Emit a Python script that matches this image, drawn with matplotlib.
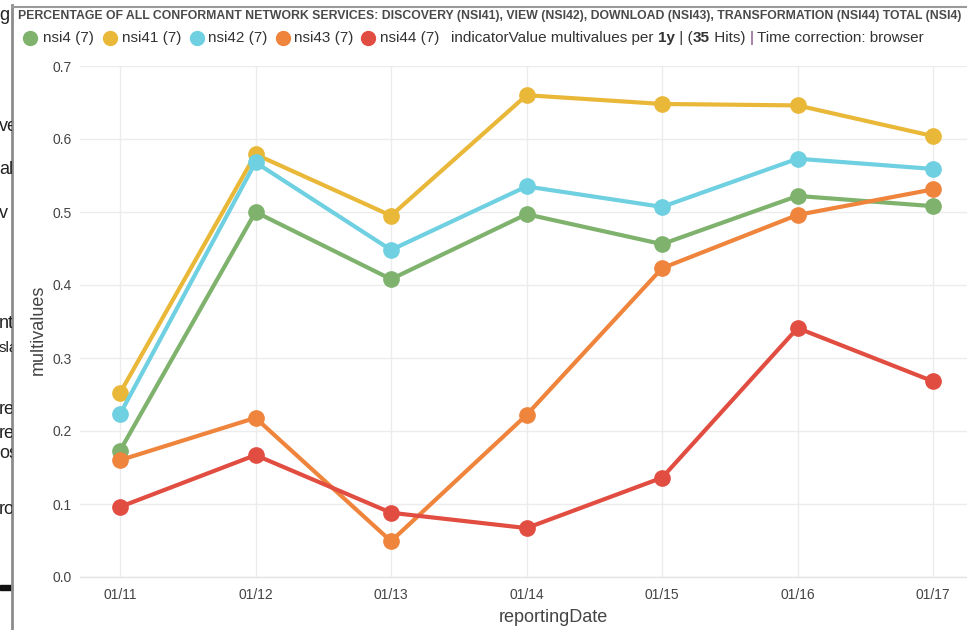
import matplotlib
matplotlib.use("Agg")
import matplotlib.pyplot as plt
from matplotlib.patches import Rectangle
from matplotlib.lines import Line2D
from matplotlib.transforms import Bbox

# ---------------- data ----------------
dates = ["01/11", "01/12", "01/13", "01/14", "01/15", "01/16", "01/17"]
nsi4 = [0.173, 0.500, 0.408, 0.497, 0.456, 0.522, 0.508]
nsi41 = [0.252, 0.579, 0.495, 0.660, 0.648, 0.646, 0.604]
nsi42 = [0.223, 0.568, 0.448, 0.535, 0.507, 0.573, 0.559]
nsi43 = [0.160, 0.218, 0.049, 0.222, 0.423, 0.496, 0.531]
nsi44 = [0.096, 0.167, 0.088, 0.067, 0.136, 0.341, 0.268]
series_labels = ["nsi4 (7)", "nsi41 (7)", "nsi42 (7)", "nsi43 (7)", "nsi44 (7)"]
yticks = [0.0, 0.1, 0.2, 0.3, 0.4, 0.5, 0.6, 0.7]
ytick_labels = ["0.0", "0.1", "0.2", "0.3", "0.4", "0.5", "0.6", "0.7"]
title = ("PERCENTAGE OF ALL CONFORMANT NETWORK SERVICES: DISCOVERY (NSI41), VIEW (NSI42), "
         "DOWNLOAD (NSI43), TRANSFORMATION (NSI44) TOTAL (NSI4)")
info_pieces = [("indicatorValue multivalues per ", "normal", "#333333"),
               ("1y", "bold", "#333333"),
               (" | (", "normal", "#333333"),
               ("35", "bold", "#333333"),
               (" Hits) ", "normal", "#333333"),
               ("|", "normal", "#7a3f7a"),
               (" Time correction: browser", "normal", "#333333")]
side_fragments = ["g", "ve", "al", "v", "nt", "sla", "re", "re", "os", "ro"]

colors = ["#7EB26D", "#EAB839", "#6ED0E0", "#EF843C", "#E24D42"]
series = [nsi4, nsi41, nsi42, nsi43, nsi44]

plt.rcParams['font.family'] = ['Liberation Sans', 'DejaVu Sans']

W, H = 967, 630
fig = plt.figure(figsize=(W / 100, H / 100), dpi=100)
fig.patch.set_facecolor("white")


def fx(px):
    return px / W


def fy(py):
    return 1 - py / H


# ---------------- main axes ----------------
ax = fig.add_axes([fx(80), fy(577), fx(967) - fx(80), (577 - 66) / H])
ax.set_zorder(5)
x = list(range(len(dates)))
for vals, c in zip(series, colors):
    ax.plot(x, vals, color=c, lw=3.0, marker="o", markersize=11,
            solid_capstyle="round", solid_joinstyle="round", clip_on=False, zorder=3)

ax.set_xlim(-0.295, 6.25)
ax.set_ylim(0, 0.7)
ax.set_xticks(x)
ax.set_xticklabels(dates)
ax.set_yticks(yticks)
ax.set_yticklabels(ytick_labels)
ax.tick_params(length=0, labelsize=10, labelcolor="#444444")
ax.tick_params(axis="x", pad=8)
ax.tick_params(axis="y", pad=6)
ax.grid(True, color="#ececec", lw=1.0, zorder=0)
ax.set_axisbelow(True)
for s in ["left", "right", "top"]:
    ax.spines[s].set_visible(False)
ax.spines["bottom"].set_color("#e4e4e4")
ax.spines["bottom"].set_linewidth(1.0)

fig.text(fx(38), fy(330), "multivalues", rotation=90, ha="center", va="center",
         fontsize=13, color="#444444")
fig.text(fx(553), fy(618), "reportingDate", ha="center", va="center",
         fontsize=13, color="#444444")

# ---------------- title and legend ----------------
fig.text(fx(18), fy(16), title, ha="left", va="center", fontsize=8.8,
         fontweight="bold", color="#4a4a4a")

legend_dot_x = [30, 110, 197, 283, 368]
legend_text_x = [43, 122, 208, 294, 380]
ly = 38
for lab, c, dx, tx in zip(series_labels, colors, legend_dot_x, legend_text_x):
    fig.add_artist(Line2D([fx(dx)], [fy(ly)], marker="o", markersize=10,
                          color=c, transform=fig.transFigure))
    fig.text(fx(tx), fy(ly), lab, ha="left", va="center", fontsize=11, color="#333333")

renderer = fig.canvas.get_renderer()
cur = 451
for txt, wt, col in info_pieces:
    t = fig.text(fx(cur), fy(ly), txt, ha="left", va="center", fontsize=11,
                 fontweight=wt, color=col)
    bb = t.get_window_extent(renderer=renderer)
    cur += bb.width

# ---------------- surrounding page fragments ----------------
clip = Bbox([[0, 0], [12, H]])
frag_y = [16, 127, 170, 213, 324, 348, 410, 433, 453, 510]
frag_size = [13, 13, 13, 13, 13, 11, 13, 13, 13, 13]
for frag, py, fs in zip(side_fragments, frag_y, frag_size):
    t = fig.text(fx(-1), fy(py), frag, ha="left", va="center", fontsize=fs,
                 color="#222222")
    t.set_clip_box(clip)
    t.set_clip_on(True)

fig.add_artist(Line2D([fx(12), fx(12)], [fy(5), fy(630)], color="#8c8c8c", lw=2,
                      transform=fig.transFigure))
fig.add_artist(Line2D([fx(12), fx(967)], [fy(7), fy(7)], color="#9a9a9a", lw=1.5,
                      transform=fig.transFigure))
fig.add_artist(Rectangle((fx(0), fy(590)), fx(12), 5 / H, color="#111111",
                         transform=fig.transFigure))

fig.savefig("out.png", dpi=100)
